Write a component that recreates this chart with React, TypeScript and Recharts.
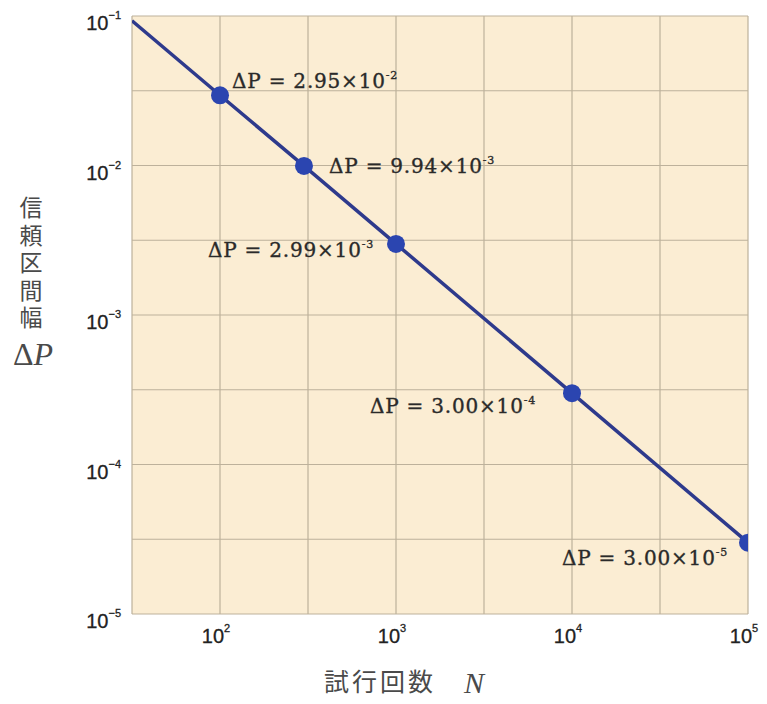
import React from "react";
import { LineChart, Line, XAxis, YAxis, ReferenceLine, ReferenceArea, LabelList } from "recharts";

// 試行回数 N と信頼区間幅 ΔP (先頭は左端から線を引くための点で、マーカーなし)
const TRIALS = [31.62, 100, 300, 1000, 10000, 100000];
const DELTA_P = [0.093, 0.0295, 0.00994, 0.00299, 0.0003, 0.00003];
const LABEL_MANTISSA = ["", "2.95", "9.94", "2.99", "3.00", "3.00"];
const LABEL_EXPONENT = ["", "-2", "-3", "-3", "-4", "-5"];

const X_DOMAIN = [31.62, 100000];
const Y_DOMAIN = [0.00001, 0.1];
const X_TICKS = [100, 1000, 10000, 100000];
const Y_TICKS = [0.00001, 0.0001, 0.001, 0.01, 0.1];
const X_GRID = [31.62, 100, 316.2, 1000, 3162, 10000, 31623, 100000];
const Y_GRID = [0.00001, 0.00003162, 0.0001, 0.0003162, 0.001, 0.003162, 0.01, 0.03162, 0.1];

// ラベルの置き場所 (点からのずれ)
const LABEL_PLACE = [
  null,
  { anchor: "start", dx: 12, dy: -7 },
  { anchor: "start", dx: 25, dy: 7 },
  { anchor: "end", dx: -22, dy: 13 },
  { anchor: "end", dx: -36, dy: 20 },
  { anchor: "end", dx: -20, dy: 22 },
];

const data = TRIALS.map((n, i) => ({ n, p: DELTA_P[i], idx: i }));

const BG = "#fbedd3";
const GRID = "#bdb19b";
const LINE = "#2e3a8c";
const DOT = "#2b45b0";
const TICK_FONT = "'Liberation Sans', Arial, sans-serif";

function expOf(v: number) {
  return Math.round(Math.log10(v));
}

function YTick(props: any) {
  const { x, y, payload } = props;
  const e = expOf(payload.value);
  return (
    <text
      x={x - 11}
      y={y + 14}
      textAnchor="end"
      fontFamily={TICK_FONT}
      fontSize={20}
      fill="#222"
      stroke="#222"
      strokeWidth={0.3}
    >
      <tspan>10</tspan>
      <tspan fontSize={11} dy={-11}>{"−" + -e}</tspan>
    </text>
  );
}

function XTick(props: any) {
  const { x, y, payload } = props;
  const e = expOf(payload.value);
  return (
    <text
      x={x - 4}
      y={y + 29}
      textAnchor="middle"
      fontFamily={TICK_FONT}
      fontSize={20}
      fill="#222"
      stroke="#222"
      strokeWidth={0.3}
    >
      <tspan>10</tspan>
      <tspan fontSize={11} dy={-11}>{e}</tspan>
    </text>
  );
}

function renderDot(props: any) {
  const { cx, cy, index } = props;
  if (index === 0) return <g key={`d${index}`} />;
  return <circle key={`d${index}`} cx={cx} cy={cy} r={9} fill={DOT} stroke="none" />;
}

function renderLabel(props: any) {
  const { x, y, index } = props;
  const place = LABEL_PLACE[index];
  if (!place) return null;
  return (
    <text
      x={x + place.dx}
      y={y + place.dy}
      textAnchor={place.anchor}
      fontFamily="'DejaVu Serif', serif"
      fontSize={20}
      letterSpacing={0.8}
      fill="#2a2a2a"
      stroke="#2a2a2a"
      strokeWidth={0.35}
    >
      <tspan>{`ΔP = ${LABEL_MANTISSA[index]}×10`}</tspan>
      <tspan fontSize={11} dy={-9}>{LABEL_EXPONENT[index]}</tspan>
    </text>
  );
}

const Y_TITLE = "信頼区間幅";

export default function App() {
  return (
    <div style={{ position: "absolute", left: 0, top: 0, width: 767, height: 704, background: "#fff" }}>
      <LineChart width={767} height={704} data={data} margin={{ top: 16, right: 19, left: 0, bottom: 0 }}>
        <XAxis
          dataKey="n"
          type="number"
          scale="log"
          domain={X_DOMAIN}
          ticks={X_TICKS}
          allowDataOverflow
          axisLine={false}
          tickLine={false}
          tickSize={0}
          tickMargin={0}
          height={90}
          tick={<XTick />}
          interval={0}
        />
        <YAxis
          dataKey="p"
          type="number"
          scale="log"
          domain={Y_DOMAIN}
          ticks={Y_TICKS}
          allowDataOverflow
          axisLine={false}
          tickLine={false}
          tickSize={0}
          tickMargin={0}
          width={132}
          tick={<YTick />}
          interval={0}
        />
        <ReferenceArea x1={X_DOMAIN[0]} x2={X_DOMAIN[1]} y1={Y_DOMAIN[0]} y2={Y_DOMAIN[1]} fill={BG} fillOpacity={1} stroke="none" />
        {X_GRID.map((v) => (
          <ReferenceLine key={`x${v}`} x={v} stroke={GRID} strokeWidth={1.2} />
        ))}
        {Y_GRID.map((v) => (
          <ReferenceLine key={`y${v}`} y={v} stroke={GRID} strokeWidth={1.2} />
        ))}
        <Line
          dataKey="p"
          stroke={LINE}
          strokeWidth={3.5}
          dot={renderDot}
          activeDot={false}
          isAnimationActive={false}
        >
          <LabelList dataKey="p" content={renderLabel} />
        </Line>
      </LineChart>
      <svg width={767} height={704} style={{ position: "absolute", left: 0, top: 0, pointerEvents: "none" }}>
        {/* 縦書きの軸タイトル */}
        <text
          x={31}
          y={196}
          fontFamily="'Noto Sans CJK JP', sans-serif"
          fontSize={23}
          letterSpacing={4.5}
          fill="#4a4a4a"
          style={{ writingMode: "vertical-rl" }}
        >
          {Y_TITLE}
        </text>
        <text x={33} y={365} textAnchor="middle" fontFamily="'Liberation Serif', serif" fontSize={32} fill="#4a4a4a">
          <tspan>Δ</tspan>
          <tspan fontStyle="italic">P</tspan>
        </text>
        <text x={324} y={691} fontFamily="'Noto Sans CJK JP', sans-serif" fontSize={25} letterSpacing={3} fill="#4a4a4a">
          試行回数
        </text>
        <text x={464} y={693} fontFamily="'Liberation Serif', serif" fontStyle="italic" fontSize={30} fill="#4a4a4a">
          N
        </text>
      </svg>
    </div>
  );
}
